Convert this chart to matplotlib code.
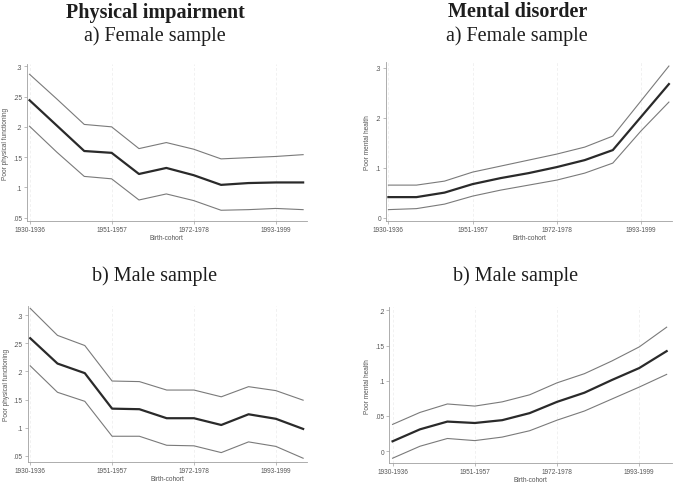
import matplotlib
matplotlib.use("Agg")
import matplotlib.pyplot as plt

cohorts = ["1930-1936", "1937-1943", "1944-1950", "1951-1957", "1958-1964",
           "1965-1971", "1972-1978", "1979-1985", "1986-1992", "1993-1999",
           "2000-2006"]
x = list(range(len(cohorts)))

# physical impairment, female
phys_f_mean = [0.244, 0.202, 0.160, 0.157, 0.122, 0.132, 0.120, 0.104, 0.107, 0.108, 0.108]
phys_f_hi = [0.287, 0.246, 0.204, 0.200, 0.164, 0.174, 0.163, 0.147, 0.149, 0.151, 0.154]
phys_f_lo = [0.201, 0.158, 0.118, 0.114, 0.079, 0.089, 0.078, 0.062, 0.063, 0.065, 0.063]

# physical impairment, male
phys_m_mean = [0.259, 0.214, 0.197, 0.134, 0.133, 0.117, 0.117, 0.105, 0.124, 0.116, 0.098]
phys_m_hi = [0.312, 0.264, 0.246, 0.183, 0.182, 0.167, 0.167, 0.155, 0.173, 0.166, 0.149]
phys_m_lo = [0.210, 0.163, 0.147, 0.085, 0.085, 0.069, 0.068, 0.056, 0.075, 0.067, 0.046]

# mental disorder, female
ment_f_mean = [0.041, 0.041, 0.050, 0.067, 0.079, 0.089, 0.101, 0.115, 0.135, 0.201, 0.267]
ment_f_hi = [0.065, 0.065, 0.073, 0.091, 0.103, 0.115, 0.127, 0.141, 0.163, 0.233, 0.303]
ment_f_lo = [0.016, 0.018, 0.027, 0.043, 0.055, 0.065, 0.075, 0.089, 0.109, 0.173, 0.231]

# mental disorder, male
ment_m_mean = [0.014, 0.031, 0.042, 0.040, 0.044, 0.054, 0.070, 0.083, 0.101, 0.118, 0.142]
ment_m_hi = [0.038, 0.055, 0.067, 0.064, 0.070, 0.080, 0.097, 0.110, 0.128, 0.148, 0.176]
ment_m_lo = [-0.010, 0.007, 0.018, 0.015, 0.020, 0.029, 0.044, 0.057, 0.074, 0.091, 0.109]

phys_ticks = [0.05, 0.1, 0.15, 0.2, 0.25, 0.3]
phys_labels = [".05", ".1", ".15", ".2", ".25", ".3"]
mf_ticks = [0, 0.1, 0.2, 0.3]
mf_labels = ["0", ".1", ".2", ".3"]
mm_ticks = [0, 0.05, 0.1, 0.15, 0.2]
mm_labels = ["0", ".05", ".1", ".15", ".2"]

fig = plt.figure(figsize=(6.77, 4.85), dpi=100)

panels = [
    ([0.040, 0.542, 0.413, 0.324], phys_f_mean, phys_f_hi, phys_f_lo,
     (-0.09, 10.13), (0.044, 0.304), phys_ticks, phys_labels, "Poor physical functioning"),
    ([0.570, 0.542, 0.423, 0.328], ment_f_mean, ment_f_hi, ment_f_lo,
     (-0.09, 10.12), (-0.007, 0.311), mf_ticks, mf_labels, "Poor mental health"),
    ([0.041, 0.045, 0.412, 0.323], phys_m_mean, phys_m_hi, phys_m_lo,
     (-0.09, 10.13), (0.039, 0.317), phys_ticks, phys_labels, "Poor physical functioning"),
    ([0.575, 0.043, 0.417, 0.321], ment_m_mean, ment_m_hi, ment_m_lo,
     (-0.12, 10.18), (-0.017, 0.204), mm_ticks, mm_labels, "Poor mental health"),
]

for rect, m, hi, lo, xl, yl, yt, ytl, ylab in panels:
    ax = fig.add_axes(rect)
    ax.plot(x, hi, color="#7a7a7a", lw=0.8)
    ax.plot(x, lo, color="#7a7a7a", lw=0.8)
    ax.plot(x, m, color="#2a2a2a", lw=1.6)
    ax.set_xlim(*xl)
    ax.set_ylim(*yl)
    ax.set_xticks([0, 3, 6, 9])
    ax.set_xticklabels([cohorts[i] for i in [0, 3, 6, 9]])
    ax.set_yticks(yt)
    ax.set_yticklabels(ytl)
    ax.grid(axis="x", color="#ebebeb", lw=0.5, ls=(0, (4, 3)))
    for s in ["top", "right"]:
        ax.spines[s].set_visible(False)
    for s in ["left", "bottom"]:
        ax.spines[s].set_color("#a0a0a0")
        ax.spines[s].set_linewidth(0.6)
    ax.tick_params(colors="#a0a0a0", labelcolor="#555555", labelsize=4.7,
                   length=2, width=0.5, pad=1.5)
    for t in ax.get_xticklabels() + ax.get_yticklabels():
        t.set_family("Liberation Sans")
    ax.set_xlabel("Birth-cohort", fontsize=4.7, color="#555555",
                  family="Liberation Sans", labelpad=0.5)
    ax.set_ylabel(ylab, fontsize=4.7, color="#555555",
                  family="Liberation Sans", labelpad=3)

serif = "Liberation Serif"
fs = 14.5
fig.text(0.229, 0.973, "Physical impairment", ha="center", va="center",
         fontsize=fs, fontweight="bold", family=serif, color="#1e1e1e")
fig.text(0.764, 0.975, "Mental disorder", ha="center", va="center",
         fontsize=fs, fontweight="bold", family=serif, color="#1e1e1e")
fig.text(0.229, 0.926, "a) Female sample", ha="center", va="center",
         fontsize=fs, family=serif, color="#1e1e1e")
fig.text(0.764, 0.926, "a) Female sample", ha="center", va="center",
         fontsize=fs, family=serif, color="#1e1e1e")
fig.text(0.229, 0.430, "b) Male sample", ha="center", va="center",
         fontsize=fs, family=serif, color="#1e1e1e")
fig.text(0.762, 0.430, "b) Male sample", ha="center", va="center",
         fontsize=fs, family=serif, color="#1e1e1e")

fig.savefig("out.png", dpi=100)
